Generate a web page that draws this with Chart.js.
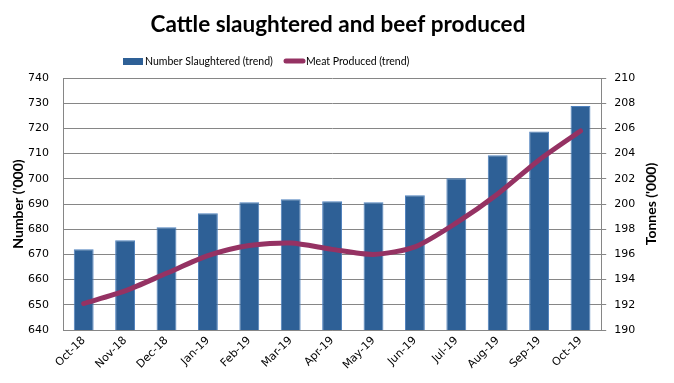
<!DOCTYPE html>
<html>
<head>
<meta charset="utf-8">
<script src="https://cdn.jsdelivr.net/npm/chart.js@4/dist/chart.umd.min.js"></script>
<style>
  html, body { margin: 0; padding: 0; background: #fff; }
  #wrap { width: 674px; height: 383px; }
</style>
</head>
<body>
<div id="wrap"><canvas id="chart" width="674" height="383"></canvas></div>
<script>
const months = ["Oct-18","Nov-18","Dec-18","Jan-19","Feb-19","Mar-19","Apr-19","May-19","Jun-19","Jul-19","Aug-19","Sep-19","Oct-19"]
const slaughtered = [672.0, 675.6, 680.8, 686.3, 690.7, 691.9, 691.1, 690.7, 693.5, 700.2, 709.3, 718.8, 728.9]
const meat = [192.1, 193.1, 194.5, 195.9, 196.7, 196.9, 196.4, 196.0, 196.6, 198.5, 200.8, 203.5, 205.8]

const gridColor = "#868686"
const barColor = "#2E6096"
const lineColor = "#953263"

// right axis title reads bottom-to-top like the left one, legend sits left of centre
const extras = {
    id: "extras",
    afterDraw(chart) {
        const ctx = chart.ctx
        const area = chart.chartArea
        ctx.save()
        ctx.translate(651, (area.top + area.bottom) / 2)
        ctx.rotate(-Math.PI / 2)
        ctx.font = "bold 14px Lato"
        ctx.fillStyle = "#000"
        ctx.textAlign = "center"
        ctx.textBaseline = "middle"
        ctx.fillText("Tonnes ('000)", 0, 0)
        ctx.restore()

        // legend
        const ds = chart.data.datasets
        const ly = 61
        ctx.save()
        ctx.font = "10.5px Lato"
        ctx.textBaseline = "middle"
        ctx.fillStyle = barColor
        ctx.fillRect(123, ly - 3, 20, 7)
        ctx.fillStyle = "#000"
        ctx.fillText(ds[1].label, 145, ly + 1)
        ctx.strokeStyle = lineColor
        ctx.lineWidth = 5
        ctx.lineCap = "round"
        ctx.beginPath()
        ctx.moveTo(286, ly)
        ctx.lineTo(303, ly)
        ctx.stroke()
        ctx.fillText(ds[0].label, 306, ly + 1)
        ctx.restore()
    }
}

const ctx = document.getElementById("chart").getContext("2d")
new Chart(ctx, {
    data: {
        labels: months,
        datasets: [
            {
                type: "line",
                label: "Meat Produced (trend)",
                data: meat,
                yAxisID: "y2",
                borderColor: lineColor,
                backgroundColor: lineColor,
                borderWidth: 5,
                borderCapStyle: "round",
                pointRadius: 0,
                tension: 0.25,
                order: 0
            },
            {
                type: "bar",
                label: "Number Slaughtered (trend)",
                data: slaughtered,
                yAxisID: "y",
                backgroundColor: barColor,
                borderColor: "#4F81BD",
                borderWidth: 1,
                barPercentage: 0.48,
                categoryPercentage: 1,
                order: 1
            }
        ]
    },
    options: {
        responsive: false,
        animation: false,
        layout: { padding: { left: 8, right: 6, top: 0, bottom: 7 } },
        plugins: {
            title: {
                display: true,
                text: "Cattle slaughtered and beef produced",
                font: { family: "Lato", size: 22.5, weight: "bold" },
                color: "#000",
                padding: { top: 11, bottom: 40 }
            },
            legend: { display: false },
            tooltip: { enabled: false }
        },
        scales: {
            x: {
                grid: { display: false, drawTicks: false },
                border: { color: gridColor },
                afterFit(scale) {
                    scale.paddingLeft = 0
                    scale.paddingRight = 0
                },
                ticks: {
                    autoSkip: false,
                    maxRotation: 45,
                    minRotation: 45,
                    padding: 4,
                    color: "#000",
                    font: { family: "DejaVu Sans", size: 11 }
                }
            },
            y: {
                position: "left",
                min: 640,
                max: 740,
                afterFit(scale) {
                    scale.width = 55
                },
                grid: { color: gridColor, drawTicks: false },
                border: { color: gridColor },
                ticks: {
                    stepSize: 10,
                    padding: 14,
                    color: "#000",
                    font: { family: "DejaVu Sans", size: 11 }
                },
                title: {
                    display: true,
                    text: "Number ('000)",
                    color: "#000",
                    font: { family: "Lato", size: 14, weight: "bold" },
                    padding: 2
                }
            },
            y2: {
                position: "right",
                min: 190,
                max: 210,
                grid: { drawOnChartArea: false, color: gridColor, tickLength: 5 },
                border: { color: gridColor },
                ticks: {
                    stepSize: 2,
                    padding: 8,
                    color: "#000",
                    font: { family: "DejaVu Sans", size: 11 }
                },
                title: {
                    display: true,
                    text: "Tonnes ('000)",
                    color: "transparent",
                    font: { family: "Lato", size: 14, weight: "bold" },
                    padding: 4
                }
            }
        }
    },
    plugins: [extras]
})
</script>
</body>
</html>
